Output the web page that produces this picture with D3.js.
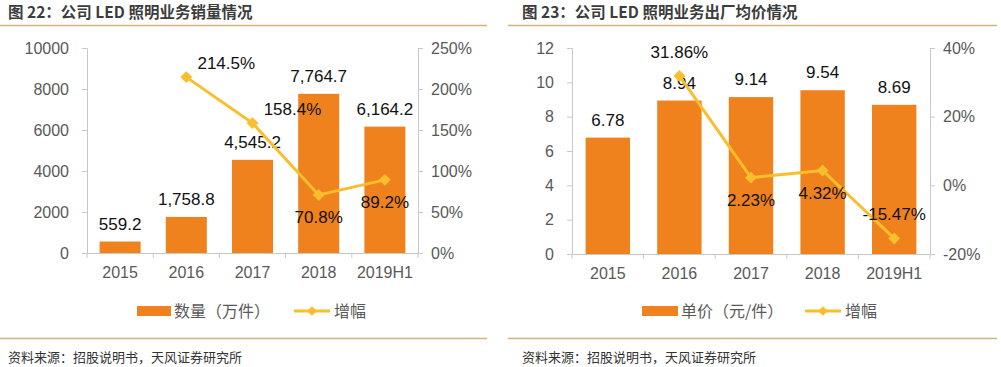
<!DOCTYPE html>
<html><head><meta charset="utf-8">
<script src="https://cdn.jsdelivr.net/npm/d3@7/dist/d3.min.js"></script>
<style>
html,body{margin:0;padding:0;background:#fff;}
svg{display:block;}
</style></head>
<body>
<svg id="c" width="1001" height="367"></svg>
<script>
// ---- data ----
const categories = ["2015", "2016", "2017", "2018", "2019H1"];
const volume = [559.2, 1758.8, 4545.2, 7764.7, 6164.2];          // 万件
const volumeGrowth = [null, 214.5, 158.4, 70.8, 89.2];             // %
const price = [6.78, 8.94, 9.14, 9.54, 8.69];                      // 元/件
const priceGrowth = [null, 31.86, 2.23, 4.32, -15.47];             // %
const volumeTicks = [0, 2000, 4000, 6000, 8000, 10000];
const volumeGrowthTicks = [0, 50, 100, 150, 200, 250];
const priceTicks = [0, 2, 4, 6, 8, 10, 12];
const priceGrowthTicks = [-20, 0, 20, 40];
const titles = ["图 22：公司 LED 照明业务销量情况", "图 23：公司 LED 照明业务出厂均价情况"];
const legendBars = ["数量（万件）", "单价（元/件）"];
const legendLine = "增幅";
const source = "资料来源：招股说明书，天风证券研究所";
// label placement keywords for growth labels
const volumeGrowthPlace = [null, "ur", "ur", "below", "below"];
const priceGrowthPlace = [null, "above", "below", "below", "above"];

const BAR = "#F0821E", LINE = "#F8BE2C", AXIS = "#C8C8C8", TXT = "#595959";
const LATIN = "'Liberation Sans', Arial, sans-serif";
const CJK = "'Noto Sans CJK SC', 'Noto Sans', sans-serif";
const svg = d3.select("#c");
const loc = d3.formatLocale({decimal: ".", thousands: ",", grouping: [3], currency: ["", ""], minus: "-"});

function drawChart(o) {
  const g = svg.append("g");
  // title
  g.append("text").attr("x", o.titleX).attr("y", 18).text(o.title)
    .attr("font-family", CJK).attr("font-weight", "bold").attr("font-size", 15.5).attr("fill", "#3C3C3C");
  g.append("line").attr("x1", o.lineX1).attr("x2", o.lineX2).attr("y1", 25.5).attr("y2", 25.5)
    .attr("stroke", "#D2B378").attr("stroke-width", 1.3);
  g.append("line").attr("x1", o.lineX1).attr("x2", o.lineX2).attr("y1", 338.5).attr("y2", 338.5)
    .attr("stroke", "#D2B378").attr("stroke-width", 1.3);
  g.append("text").attr("x", o.titleX).attr("y", 362).text(source)
    .attr("font-family", CJK).attr("font-size", 13).attr("fill", "#333");

  const x = d3.scaleBand().domain(categories).range([o.x0, o.x1]).paddingInner(0.38).paddingOuter(0.19);
  const xb = d3.scaleBand().domain(categories).range([o.x0, o.x1]);
  const yL = d3.scaleLinear().domain(o.lDomain).range([o.yBottom, o.yTop]);
  const yR = d3.scaleLinear().domain(o.rDomain).range([o.yBottom, o.yTop]);

  // axes
  const axL = g.append("g").attr("transform", `translate(${o.x0},0)`)
    .call(d3.axisLeft(yL).tickValues(o.lTicks).tickSize(5).tickPadding(13).tickFormat(loc.format("d")));
  const axR = g.append("g").attr("transform", `translate(${o.x1},0)`)
    .call(d3.axisRight(yR).tickValues(o.rTicks).tickSize(5).tickPadding(8).tickFormat(d => loc.format("d")(d) + "%"));
  const axB = g.append("g").attr("transform", `translate(0,${o.yBottom})`)
    .call(d3.axisBottom(xb).tickSize(0).tickPadding(14));
  // boundary ticks on x axis
  const bounds = categories.map(c => xb(c)).concat([o.x1]);
  g.selectAll(".bt").data(bounds).join("line")
    .attr("x1", d => d).attr("x2", d => d).attr("y1", o.yBottom).attr("y2", o.yBottom + 5)
    .attr("stroke", AXIS);
  [axL, axR, axB].forEach(a => {
    a.selectAll("path,line").attr("stroke", AXIS);
    a.selectAll("text").attr("font-family", LATIN).attr("font-size", 16).attr("fill", TXT);
  });

  // bars
  g.selectAll(".bar").data(o.bars).join("rect")
    .attr("x", (d, i) => x(categories[i])).attr("width", x.bandwidth())
    .attr("y", d => yL(d)).attr("height", d => yL(o.lDomain[0]) - yL(d)).attr("fill", BAR);
  g.selectAll(".bl").data(o.bars).join("text")
    .attr("x", (d, i) => xb(categories[i]) + xb.bandwidth() / 2).attr("y", d => yL(d) - o.barLabelGap)
    .attr("text-anchor", "middle").text(d => o.barFmt(d))
    .attr("font-family", LATIN).attr("font-size", 17).attr("fill", "#111");

  // line
  const pts = o.growth.map((v, i) => v == null ? null : [xb(categories[i]) + xb.bandwidth() / 2, yR(v), v, o.place[i]]).filter(Boolean);
  g.append("path").attr("d", d3.line()(pts.map(p => [p[0], p[1]])))
    .attr("fill", "none").attr("stroke", LINE).attr("stroke-width", 3);
  g.selectAll(".mk").data(pts).join("path")
    .attr("transform", p => `translate(${p[0]},${p[1]})`)
    .attr("d", d3.symbol(d3.symbolDiamond2, 90)).attr("fill", LINE);
  g.selectAll(".gl").data(pts).join("text")
    .attr("x", p => p[3] === "ur" ? p[0] + 40 : p[0])
    .attr("y", p => p[3] === "ur" ? p[1] - 8 : p[3] === "above" ? p[1] - 18 : p[1] + 28)
    .attr("text-anchor", "middle").text(p => o.growthFmt(p[2]) + "%")
    .attr("font-family", LATIN).attr("font-size", 17).attr("fill", "#111");

  // legend
  const ly = 311;
  g.append("rect").attr("x", o.legX).attr("y", ly - 5).attr("width", o.legRectW).attr("height", 10).attr("fill", BAR);
  g.append("text").attr("x", o.legX + o.legRectW + 3).attr("y", ly + 6).text(o.legend)
    .attr("font-family", CJK).attr("font-size", 16).attr("fill", TXT);
  g.append("line").attr("x1", o.legLineX).attr("x2", o.legLineX + 36).attr("y1", ly).attr("y2", ly)
    .attr("stroke", LINE).attr("stroke-width", 3);
  g.append("path").attr("transform", `translate(${o.legLineX + 18},${ly})`)
    .attr("d", d3.symbol(d3.symbolDiamond2, 60)).attr("fill", LINE);
  g.append("text").attr("x", o.legLineX + 40).attr("y", ly + 6).text(legendLine)
    .attr("font-family", CJK).attr("font-size", 16).attr("fill", TXT);
}

drawChart({
  title: titles[0], titleX: 8, lineX1: 0, lineX2: 487,
  x0: 87, x1: 418, yTop: 48, yBottom: 253,
  lDomain: [0, 10000], rDomain: [0, 250], lTicks: volumeTicks, rTicks: volumeGrowthTicks,
  bars: volume, barFmt: loc.format(",.1f"), barLabelGap: 12,
  growth: volumeGrowth, growthFmt: loc.format(".1f"), place: volumeGrowthPlace,
  legend: legendBars[0], legX: 137, legRectW: 34, legLineX: 294
});
drawChart({
  title: titles[1], titleX: 522, lineX1: 508, lineX2: 997,
  x0: 572, x1: 930, yTop: 48, yBottom: 254,
  lDomain: [0, 12], rDomain: [-20, 40], lTicks: priceTicks, rTicks: priceGrowthTicks,
  bars: price, barFmt: loc.format(".2f"), barLabelGap: 12,
  growth: priceGrowth, growthFmt: loc.format(".2f"), place: priceGrowthPlace,
  legend: legendBars[1], legX: 642, legRectW: 36, legLineX: 805
});
</script>
</body></html>
